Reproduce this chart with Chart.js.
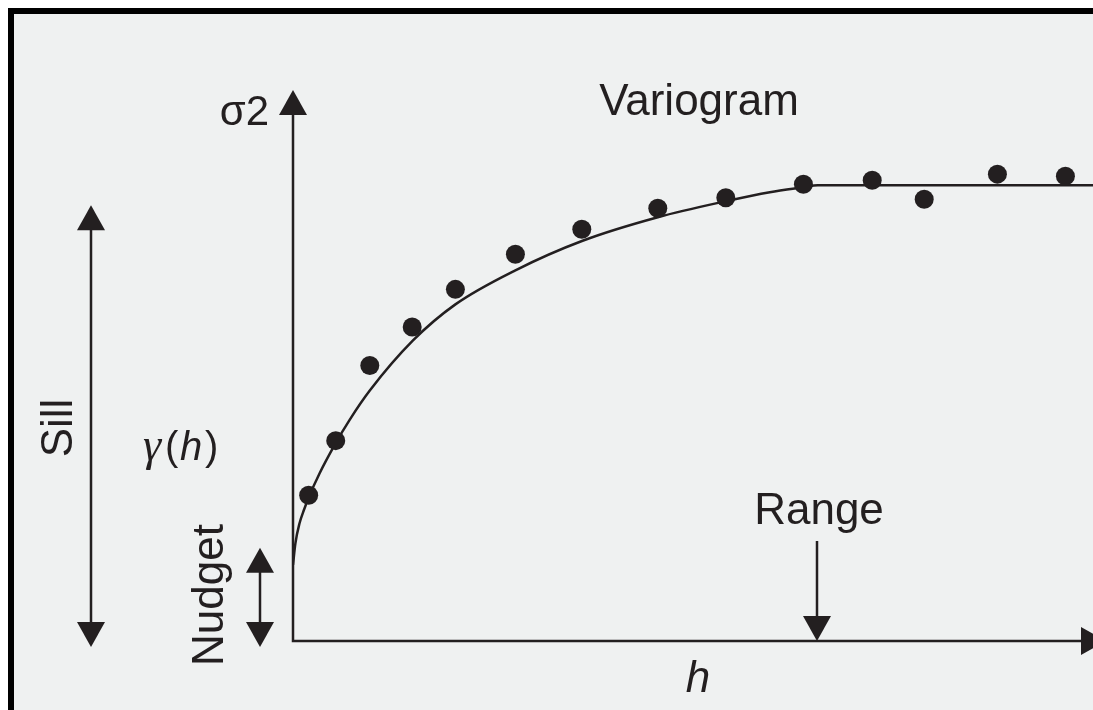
<!DOCTYPE html>
<html>
<head>
<meta charset="utf-8">
<script src="https://cdn.jsdelivr.net/npm/chart.js@4"></script>
<style>
  body { margin: 0; background: #fff; }
  canvas { display: block; }
</style>
</head>
<body>
<canvas id="myChart" width="1093" height="710"></canvas>
<script>
// sample variogram points (lag h, semivariance)
var lagValues = [1.96, 5.34, 9.6, 14.9, 20.3, 27.8, 36.1, 45.6, 54.1, 63.8, 72.4, 78.9, 88.05, 96.55]
var gammaValues = [29.1, 40, 55, 62.7, 70.2, 77.2, 82.2, 86.4, 88.5, 91.2, 92, 88.2, 93.2, 92.8]

// fitted model curve
var curveLag = [0, 0.3, 0.8, 1.4, 2.0, 3.3, 5.3, 7.1, 9.6, 15.0, 20.3, 27.8, 36.2, 45.6, 54.1, 59.6, 63.8, 65.6, 100]
var curveGamma = [15.2, 19.5, 23.4, 26.3, 28.8, 33.4, 39.4, 44.2, 50.0, 60.0, 67.2, 74.0, 79.9, 84.6, 87.8, 89.6, 90.6, 91.0, 91.0]

var nugget = 15.2
var sill = 91.0
var range = 65.5

var ink = '#231f20'

function toPoints(xs, ys) {
	return xs.map(function (x, i) { return { x: x, y: ys[i] } })
}

function arrowHead(c, x, y, dir) {
	// dir: 'up', 'down', 'right'
	var len = 25, half = 14
	c.beginPath()
	c.moveTo(x, y)
	if (dir === 'up') { c.lineTo(x - half, y + len); c.lineTo(x + half, y + len) }
	if (dir === 'down') { c.lineTo(x - half, y - len); c.lineTo(x + half, y - len) }
	if (dir === 'right') { c.lineTo(x - len, y - half); c.lineTo(x - len, y + half) }
	c.closePath()
	c.fill()
}

function vLine(c, x, y1, y2) {
	c.beginPath()
	c.moveTo(x, y1)
	c.lineTo(x, y2)
	c.stroke()
}

function vText(c, text, x, y) {
	c.save()
	c.translate(x, y)
	c.rotate(-Math.PI / 2)
	c.textAlign = 'center'
	c.textBaseline = 'alphabetic'
	c.fillText(text, 0, 0)
	c.restore()
}

var decor = {
	id: 'decor',
	beforeDraw: function (chart) {
		var c = chart.ctx
		c.save()
		c.fillStyle = '#fff'
		c.fillRect(0, 0, chart.width, chart.height)
		c.fillStyle = '#eff1f1'
		c.fillRect(8, 8, chart.width, chart.height)
		c.fillStyle = '#000'
		c.fillRect(8, 8, chart.width, 6)
		c.fillRect(8, 8, 6, chart.height)
		c.restore()
	},
	beforeDatasetsDraw: function (chart) {
		var c = chart.ctx
		var xs = chart.scales.x, ys = chart.scales.y
		var x0 = xs.getPixelForValue(0), y0 = ys.getPixelForValue(0)
		var top = ys.getPixelForValue(110)
		c.save()
		c.strokeStyle = ink
		c.fillStyle = ink
		c.lineWidth = 2.5
		// axes
		c.beginPath()
		c.moveTo(x0, top + 20)
		c.lineTo(x0, y0)
		c.lineTo(chart.width + 5, y0)
		c.stroke()
		arrowHead(c, x0, top, 'up')
		arrowHead(c, chart.width + 13, y0, 'right')

		// range marker
		var xr = xs.getPixelForValue(range)
		vLine(c, xr, y0 - 100, y0 - 20)
		arrowHead(c, xr, y0, 'down')

		// nugget double arrow
		var yb = y0 + 6
		var yn = ys.getPixelForValue(nugget) - 17
		vLine(c, 260, yn + 10, yb - 10)
		arrowHead(c, 260, yn, 'up')
		arrowHead(c, 260, yb, 'down')

		// sill double arrow
		var ys1 = ys.getPixelForValue(sill) + 20
		vLine(c, 91, ys1 + 10, yb - 10)
		arrowHead(c, 91, ys1, 'up')
		arrowHead(c, 91, yb, 'down')

		// labels
		c.font = '44px "Liberation Sans", Arial, sans-serif'
		c.textBaseline = 'alphabetic'
		c.textAlign = 'center'
		c.fillText('Variogram', 699, 115)
		c.fillText('Range', 819, 524)
		c.textAlign = 'right'
		c.font = '42px "Liberation Sans", Arial, sans-serif'
		c.fillText('σ2', 269, 125)
		c.font = '44px "Liberation Sans", Arial, sans-serif'
		vText(c, 'Sill', 72, 428)
		vText(c, 'Nudget', 223, 595)
		c.textAlign = 'left'
		c.font = 'italic 46px "Liberation Serif", serif'
		c.fillText('γ', 143, 460)
		c.font = '40px "Liberation Sans", Arial, sans-serif'
		c.fillText('(', 165, 460)
		c.fillText(')', 205, 460)
		c.font = 'italic 40px "Liberation Sans", Arial, sans-serif'
		c.fillText('h', 180, 460)
		c.font = 'italic 44px "Liberation Sans", Arial, sans-serif'
		c.textAlign = 'center'
		c.fillText('h', 698, 692)
		c.restore()
	}
}

var ctx = document.getElementById('myChart').getContext('2d')

var myChart = new Chart(ctx, {
	type: 'scatter',
	data: {
		datasets: [{
			label: 'model',
			data: toPoints(curveLag, curveGamma),
			showLine: true,
			borderColor: ink,
			borderWidth: 2.5,
			pointRadius: 0,
			cubicInterpolationMode: 'monotone',
			order: 2
		}, {
			label: 'samples',
			data: toPoints(lagValues, gammaValues),
			backgroundColor: ink,
			borderColor: ink,
			pointRadius: 9.5,
			pointBorderWidth: 0,
			order: 1
		}]
	},
	plugins: [decor],
	options: {
		responsive: false,
		animation: false,
		layout: { autoPadding: false, padding: { left: 293, right: 0, top: 90, bottom: 69 } },
		plugins: { legend: { display: false }, tooltip: { enabled: false } },
		scales: {
			x: { type: 'linear', min: 0, max: 100, display: false },
			y: { type: 'linear', min: 0, max: 110, display: false }
		}
	}
})
</script>
</body>
</html>
